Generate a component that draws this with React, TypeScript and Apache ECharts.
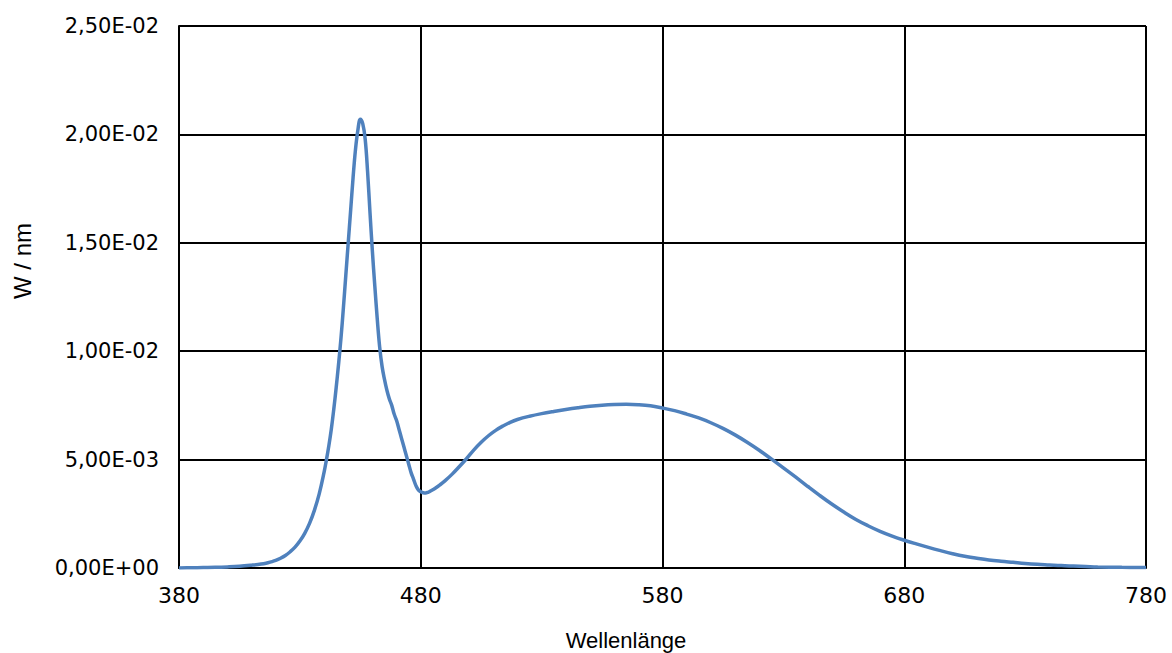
import React, { useEffect, useRef } from "react";
import * as echarts from "echarts";

const wavelengths: number[] = [
  380, 385, 390, 395, 400, 405, 410, 414, 416, 418, 420, 422, 424, 426, 428, 430, 432, 434, 436, 438, 440, 441, 442,
  443, 444, 445, 446, 447, 448, 449, 450, 451, 452, 453, 454, 455, 456, 457, 458, 459, 460, 461, 462, 463, 464, 465,
  466, 467, 468, 469, 470, 471, 472, 473, 474, 475, 476, 477, 478, 479, 480, 481, 482, 483, 484, 486, 488, 490, 493,
  496, 499, 502, 505, 508, 511, 514, 517, 520, 525, 530, 535, 540, 545, 550, 555, 560, 565, 570, 575, 580, 585, 590,
  595, 600, 605, 610, 615, 620, 625, 630, 635, 640, 645, 650, 655, 660, 665, 670, 675, 680, 685, 690, 695, 700, 705,
  710, 715, 720, 725, 730, 735, 740, 745, 750, 755, 760, 770, 780,
];
const power: number[] = [
  0, 0.00001, 0.00002, 0.00003, 0.00005, 0.00008, 0.00013, 0.00018, 0.00022, 0.00028, 0.00035, 0.00045, 0.00058,
  0.00075, 0.00096, 0.00124, 0.0016, 0.00206, 0.00266, 0.00342, 0.00441, 0.005, 0.00565, 0.0064, 0.0073, 0.0083,
  0.0094, 0.0106, 0.012, 0.0135, 0.015, 0.0165, 0.018, 0.0193, 0.0202, 0.0207, 0.0205, 0.0198, 0.0183, 0.0164,
  0.0146, 0.013, 0.0115, 0.0102, 0.0093, 0.0087, 0.0082, 0.0078, 0.0075, 0.0071, 0.0068, 0.0064, 0.006, 0.0056,
  0.0052, 0.0048, 0.0044, 0.0041, 0.0038, 0.0036, 0.00352, 0.00347, 0.00346, 0.00349, 0.00355, 0.00368, 0.00384,
  0.00402, 0.00433, 0.00468, 0.00505, 0.00545, 0.0058, 0.0061, 0.00635, 0.00655, 0.00672, 0.00685, 0.007, 0.00712,
  0.00722, 0.00731, 0.00739, 0.00746, 0.00751, 0.00754, 0.00755, 0.00753, 0.00748, 0.00738, 0.00726, 0.0071,
  0.00692, 0.0067, 0.00644, 0.00614, 0.0058, 0.00543, 0.00503, 0.00462, 0.0042, 0.00377, 0.00335, 0.00295, 0.00258,
  0.00224, 0.00195, 0.00169, 0.00147, 0.00128, 0.00111, 0.00095, 0.0008, 0.00066, 0.00054, 0.00045, 0.00037, 0.00031,
  0.00026, 0.00021, 0.00017, 0.00014, 0.00011, 0.00009, 0.00007, 0.00005, 0.00003, 0.00002,
];
const xTicks = { min: 380, max: 780, interval: 100 };
const yTicks = { min: 0, max: 0.025, interval: 0.005 };
const xTitle = "Wellenlänge";
const yTitle = "W / nm";

function fmtExp(v: number): string {
  const [m, e] = v.toExponential(2).split("e");
  const sign = e.startsWith("-") ? "-" : "+";
  const digits = e.replace(/[+-]/, "").padStart(2, "0");
  return m.replace(".", ",") + "E" + sign + digits;
}

export default function App() {
  const ref = useRef<HTMLDivElement>(null);
  useEffect(() => {
    if (!ref.current) return;
    const chart = echarts.init(ref.current, undefined, { renderer: "svg" });
    const labelFont = "DejaVu Sans";
    chart.setOption({
      animation: false,
      backgroundColor: "#ffffff",
      grid: { left: 179, right: 26, top: 26, bottom: 85 },
      xAxis: {
        type: "value",
        min: xTicks.min,
        max: xTicks.max,
        interval: xTicks.interval,
        axisLine: { show: true, lineStyle: { color: "#000", width: 2 } },
        axisTick: { show: false },
        axisLabel: { color: "#000", fontFamily: labelFont, fontSize: 22, margin: 16 },
        splitLine: { show: true, lineStyle: { color: "#000", width: 2 } },
      },
      yAxis: {
        type: "value",
        min: yTicks.min,
        max: yTicks.max,
        interval: yTicks.interval,
        axisLine: { show: true, lineStyle: { color: "#000", width: 2 } },
        axisTick: { show: false },
        axisLabel: { color: "#000", fontFamily: labelFont, fontSize: 21, margin: 20, formatter: fmtExp },
        splitLine: { show: true, lineStyle: { color: "#000", width: 2 } },
      },
      graphic: [
        {
          type: "text",
          x: 626,
          y: 640,
          style: {
            text: xTitle,
            fill: "#000",
            font: "22px 'Liberation Sans'",
            align: "center",
            verticalAlign: "middle",
          },
        },
        {
          type: "text",
          x: 22,
          y: 261,
          rotation: Math.PI / 2,
          style: {
            text: yTitle,
            fill: "#000",
            font: "24px 'Liberation Sans'",
            align: "center",
            verticalAlign: "middle",
          },
        },
      ],
      series: [
        {
          type: "line",
          data: wavelengths.map((w, i) => [w, power[i]]),
          smooth: 0.4,
          showSymbol: false,
          lineStyle: { color: "#4F81BD", width: 3.5 },
        },
      ],
    });
    return () => chart.dispose();
  }, []);
  return <div ref={ref} style={{ position: "fixed", left: 0, top: 0, width: 1172, height: 653 }} />;
}
